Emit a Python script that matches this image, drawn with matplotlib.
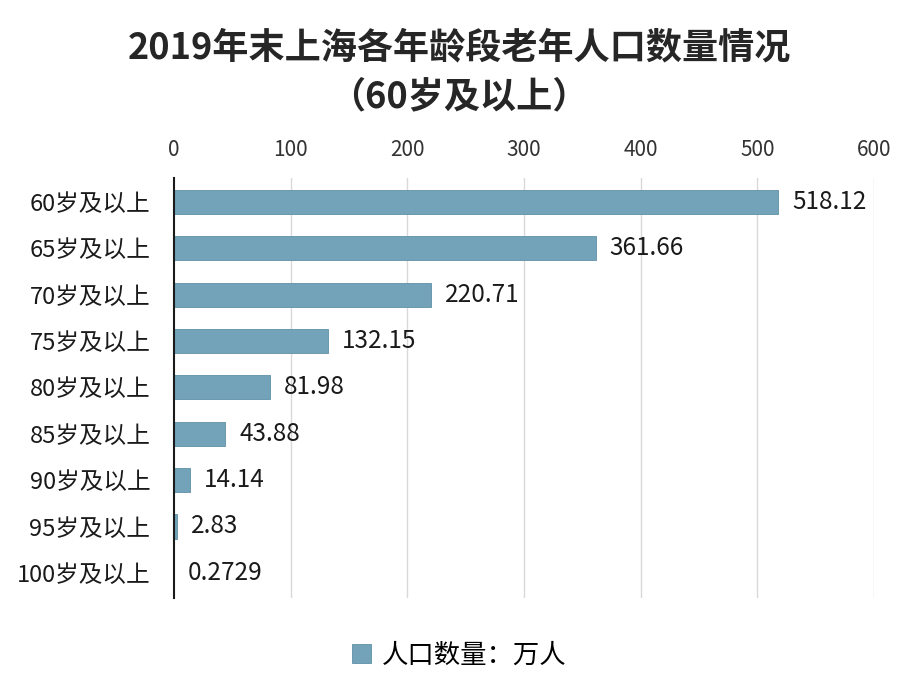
import matplotlib
matplotlib.use('Agg')
import matplotlib.pyplot as plt
import numpy as np

#
#--- chart data
#
categories = ['60岁及以上', '65岁及以上', '70岁及以上', '75岁及以上', '80岁及以上',
              '85岁及以上', '90岁及以上', '95岁及以上', '100岁及以上']
values     = [518.12, 361.66, 220.71, 132.15, 81.98, 43.88, 14.14, 2.83, 0.2729]
labels     = ['518.12', '361.66', '220.71', '132.15', '81.98', '43.88', '14.14', '2.83', '0.2729']
xticks     = [0, 100, 200, 300, 400, 500, 600]
title      = '2019年末上海各年龄段老年人口数量情况\n（60岁及以上）'
legend_txt = '人口数量：万人'

plt.rcParams['font.family'] = ['Noto Sans CJK SC', 'DejaVu Sans']

bar_color  = '#72a3b8'
edge_color = '#5f90a6'

fig = plt.figure(figsize=(9.18, 6.92), dpi=100)
ax = fig.add_axes([0.1895, 0.136, 0.7625, 0.607])

ypos = np.arange(len(categories))
bars = ax.barh(ypos, values, height=0.52, color=bar_color, edgecolor=edge_color,
               linewidth=0.6, label=legend_txt, zorder=3)
#
#--- value labels
#
for y, v, t in zip(ypos, values, labels):
    ax.annotate(t, xy=(v, y), xytext=(10, 0), textcoords='offset points',
                va='center', ha='left', fontsize=17.5, color='#1a1a1a')
#
#--- axes set up
#
ax.set_xlim(0, 600)
ax.set_ylim(len(categories) - 0.46, -0.52)
ax.set_xticks(xticks)
ax.xaxis.tick_top()
ax.tick_params(axis='x', length=0, labelsize=15, pad=12, colors='#333333')
ax.tick_params(axis='y', length=0, labelsize=17, pad=17, colors='#1a1a1a')
ax.set_yticks(ypos)
ax.set_yticklabels(categories)

for x in xticks[1:]:
    ax.axvline(x, color='#d9d9d9', lw=1.0, zorder=1)

for s in ['top', 'right', 'bottom']:
    ax.spines[s].set_visible(False)
ax.spines['left'].set_color('#1a1a1a')
ax.spines['left'].set_linewidth(1.5)
ax.spines['left'].set_zorder(4)

fig.text(0.5, 0.895, title, ha='center', va='center', fontsize=26,
         fontweight='bold', color='#262626', linespacing=1.4)

leg = fig.legend(handles=[bars], labels=[legend_txt], loc='center',
                 bbox_to_anchor=(0.5, 0.053), frameon=False, fontsize=19,
                 handlelength=0.75, handleheight=0.75, handletextpad=0.4)

plt.savefig('out.png', dpi=100)
